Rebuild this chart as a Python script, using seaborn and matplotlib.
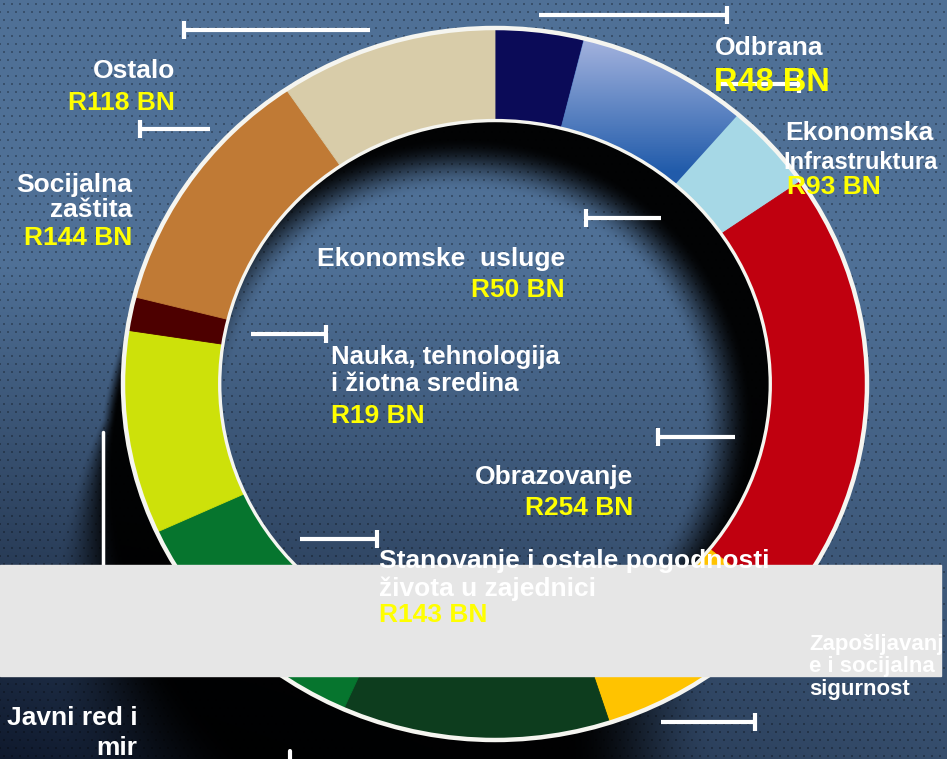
import numpy as np
import matplotlib
matplotlib.use("Agg")
import matplotlib.pyplot as plt
from matplotlib.patches import Ellipse, Rectangle
import seaborn as sns

# budžet po funkcijama (R milijardi), redom u smjeru kazaljke od vrha
categories = ["Odbrana", "Ekonomska Infrastruktura", "Ekonomske usluge", "Obrazovanje",
              "Zapošljavanje i socijalna sigurnost", "Zdravstvo",
              "Stanovanje i ostale pogodnosti života u zajednici", "Javni red i mir",
              "Nauka, tehnologija i žiotna sredina", "Socijalna zaštita", "Ostalo"]
values = [48, 93, 50, 254, 115, 145, 143, 115, 19, 144, 118]
seg_colors = ["#0b0b58", "#4673bd", "#a6d8e6", "#c0000f", "#ffc300", "#0d3d1e",
              "#06752e", "#cde10a", "#4d0000", "#c07a35", "#d8cca9"]

sns.set_theme(style="white")
plt.rcParams['font.family'] = ['Liberation Sans', 'DejaVu Sans']

W, H = 947, 759
fig = plt.figure(figsize=(W / 100, H / 100), dpi=100)

# --- pozadina: gradijent, tačkice, sjena prstena ---
yy, xx = np.mgrid[0:H, 0:W] + 0.5
xn, yn = xx / W, yy / H
t = 1 - 0.9 * np.clip((yn - 0.35) / 0.65, 0, 1) * (1 - 0.6 * xn)
light = np.array([0.31, 0.44, 0.59])
dark = np.array([0.03, 0.06, 0.13])
img = dark + (light - dark) * t[..., None]

row = (yy // 8).astype(int)
ddx = (np.floor(xx) + 4 * (row % 2)) % 8
ddy = np.floor(yy) % 8
dots = (ddx >= 3) & (ddx < 5) & (ddy >= 3) & (ddy < 5)
img[dots] *= 0.72


def smooth(e0, e1, r):
    s = np.clip((r - e0) / (e1 - e0), 0, 1)
    return s * s * (3 - 2 * s)


# sjena pada dolje-lijevo
y_rel = (yy - 384) / 356
x_rel = (xx - 495) / 372
r_o = np.sqrt(((xx - 480) / 375) ** 2 + ((yy - 470) / 380) ** 2)
outer = 1 - smooth(0.98, 1.02 + 0.35 * np.clip(y_rel - 0.1, 0, 1), r_o)
outside_ring = x_rel ** 2 + y_rel ** 2 > 1
outer = np.where(outside_ring, outer * (1 - smooth(0.2, 0.6, x_rel)), outer)
r_i = np.sqrt(((xx - 462) / 274) ** 2 + ((yy - 420) / 266) ** 2)
shadow = outer * smooth(0.86, 1.06, r_i)
img = img * (1 - 0.97 * shadow[..., None])

bg = fig.add_axes([0, 0, 1, 1])
bg.imshow(np.clip(img, 0, 1), extent=(0, W, H, 0), interpolation="none", aspect="auto")
bg.set_xlim(0, W)
bg.set_ylim(H, 0)
bg.axis("off")

# --- prsten ---
cx, cy, ax_r, ay_r = 495, 384, 372, 356
pie_ax = fig.add_axes([(cx - ax_r) / W, 1 - (cy + ay_r) / H, 2 * ax_r / W, 2 * ay_r / H])
pie_ax.patch.set_alpha(0)
pal = sns.color_palette(seg_colors)
wedges, _ = pie_ax.pie(values, colors=pal, startangle=90, counterclock=False, radius=1,
                       wedgeprops=dict(width=0.26, linewidth=0.6))
pie_ax.set_aspect("auto")
pie_ax.set_xlim(-1, 1)
pie_ax.set_ylim(-1, 1)
pie_ax.axis("off")
for w in wedges:
    w.set_edgecolor(w.get_facecolor())
    w.set_clip_on(False)

# prelaz boje na plavom segmentu
gy = np.linspace(1, 0, 200)[:, None] * np.ones((1, 200))
c_dark, c_light = np.array([0.13, 0.36, 0.67]), np.array([0.64, 0.70, 0.87])
tg = np.clip((gy - 0.6) / 0.37, 0, 1)[..., None]
grad = c_dark + (c_light - c_dark) * tg
im = pie_ax.imshow(grad, extent=(0, 1, 0, 1), origin="upper", aspect="auto", zorder=1.5)
im.set_clip_path(wedges[1])
pie_ax.set_xlim(-1, 1)
pie_ax.set_ylim(-1, 1)

for d, lw in [(2.0, 3.2), (1.48, 2.4)]:
    pie_ax.add_patch(Ellipse((0, 0), d, d, fill=False, ec="#f5f5f0", lw=lw, clip_on=False,
                             zorder=3))

# --- natpisi, pokazivači, sivi pravougaonik ---
ov = fig.add_axes([0, 0, 1, 1])
ov.set_xlim(0, W)
ov.set_ylim(H, 0)
ov.patch.set_alpha(0)
ov.axis("off")

ov.add_patch(Rectangle((0, 565), 941, 111, color="#e6e6e6", zorder=2))

pointers = [  # (y, x0, x1, x_tick)
    (30, 184, 370, 184), (15, 539, 727, 727), (129, 140, 210, 140), (84, 718, 799, 799),
    (218, 586, 661, 586), (334, 251, 326, 326), (437, 658, 735, 658), (539, 300, 377, 377),
    (722, 661, 755, 755),
]
for y, x0, x1, xt in pointers:
    ov.plot([x0, x1], [y, y], color="white", lw=3, solid_capstyle="butt", zorder=3)
    ov.plot([xt, xt], [y - 9, y + 9], color="white", lw=3, solid_capstyle="butt", zorder=3)
ov.plot([103, 103], [432, 600], color="white", lw=2.5, zorder=1)
ov.plot([290, 290], [751, 760], color="white", lw=3, zorder=3)

WHITE, YELLOW = "white", "#ffff00"
labels = [  # (tekst, x, baseline, poravnanje, boja, veličina)
    ("Ostalo", 175, 78, "right", WHITE, 19), ("R118 BN", 175, 110, "right", YELLOW, 19),
    ("Socijalna", 132, 192, "right", WHITE, 19), ("zaštita", 132, 217, "right", WHITE, 19),
    ("R144 BN", 132, 245, "right", YELLOW, 19),
    ("Odbrana", 715, 55, "left", WHITE, 19), ("R48 BN", 714, 91, "left", YELLOW, 23.5),
    ("Ekonomska", 785, 140, "left", WHITE, 19), ("Infrastruktura", 783, 169, "left", WHITE, 17),
    ("R93 BN", 787, 194, "left", YELLOW, 19),
    ("Ekonomske  usluge", 565, 266, "right", WHITE, 19), ("R50 BN", 565, 297, "right", YELLOW, 19),
    ("Nauka, tehnologija", 331, 364, "left", WHITE, 18.5),
    ("i žiotna sredina", 331, 391, "left", WHITE, 18.5), ("R19 BN", 331, 423, "left", YELLOW, 19),
    ("Obrazovanje", 633, 484, "right", WHITE, 19), ("R254 BN", 633, 515, "right", YELLOW, 19),
    ("Stanovanje i ostale pogodnosti", 379, 568, "left", WHITE, 19),
    ("života u zajednici", 379, 596, "left", WHITE, 19), ("R143 BN", 379, 622, "left", YELLOW, 19),
    ("Zapošljavanj", 809, 650, "left", WHITE, 16), ("e i socijalna", 809, 672, "left", WHITE, 16),
    ("sigurnost", 809, 695, "left", WHITE, 16),
    ("Javni red i", 7, 725, "left", WHITE, 19), ("mir", 137, 755, "right", WHITE, 19),
]
for txt, x, y, ha, c, fs in labels:
    ov.text(x, y, txt, ha=ha, va="baseline", color=c, fontsize=fs,
            fontweight="bold", zorder=4)

fig.savefig("out.png", dpi=100)
